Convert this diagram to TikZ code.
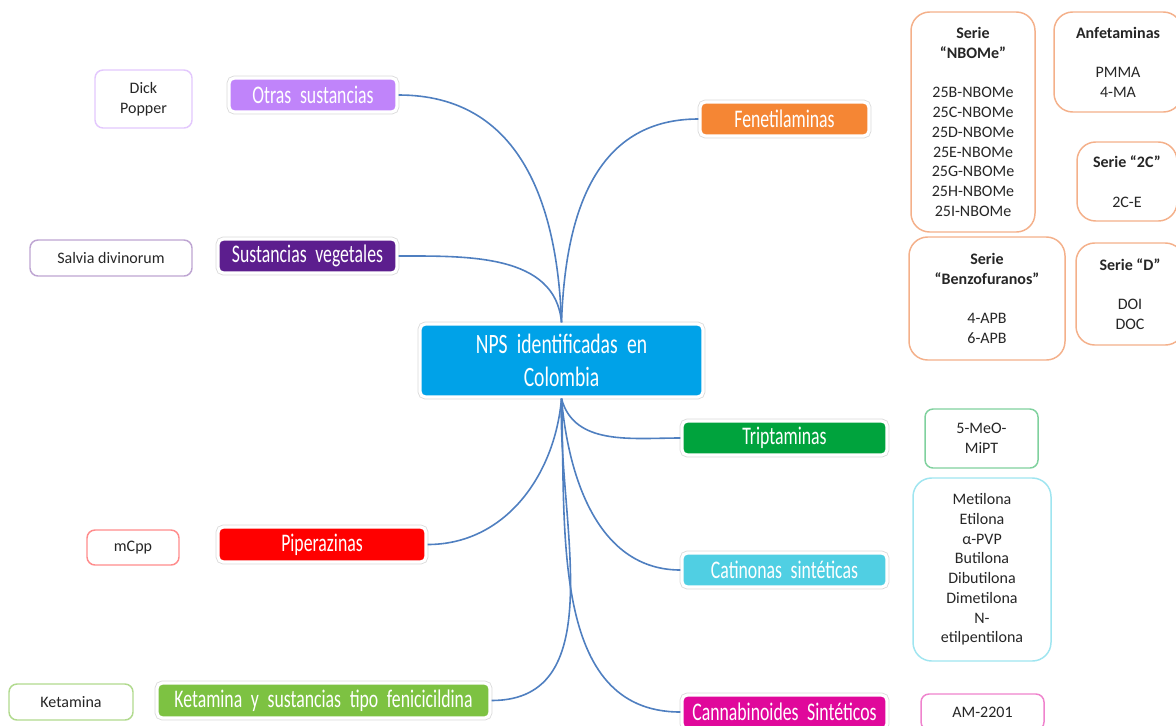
\documentclass[tikz,border=0pt]{standalone}
\usepackage{fontspec}
\setmainfont{Carlito}
\newfontfamily\catfont{Carlito}[FakeStretch=0.7]
\newcommand\catsize{\catfont\fontsize{19}{22}\selectfont\spaceskip=6.5pt\relax}
\newcommand\hubsize{\catfont\fontsize{21}{25}\selectfont\spaceskip=7pt\relax}
\definecolor{hubcol}{HTML}{00A2E8}
\definecolor{otrascol}{HTML}{C084FA}
\definecolor{vegetcol}{HTML}{5C1E8E}
\definecolor{pipercol}{HTML}{FF0000}
\definecolor{ketcol}{HTML}{7DC242}
\definecolor{fenetcol}{HTML}{F58634}
\definecolor{triptcol}{HTML}{00A33D}
\definecolor{catincol}{HTML}{50CFE3}
\definecolor{cannacol}{HTML}{E0089B}
\definecolor{linkblue}{HTML}{4F7FC0}
\definecolor{orangeline}{HTML}{F4B08A}

\begin{document}
\begin{tikzpicture}[x=0.75pt,y=-0.75pt,
	cat/.style={rounded corners=4pt, text=white, inner sep=0pt, align=center, font=\catsize,
		preaction={draw=black!15, line width=3.6pt}, draw=white, line width=2.4pt},
	leaf/.style={rounded corners=6pt, fill=white, line width=1.1pt, text=black!85,
		inner sep=0pt, align=center, font=\fontsize{12}{14.8}\selectfont},
	serie/.style={leaf, rounded corners=14pt, draw=orangeline},
	branch/.style={draw=linkblue, line width=1.2pt}]
	\useasboundingbox (0,0) rectangle (1176,725);
	% centre
	\node[cat, fill=hubcol, minimum width=212.25pt, minimum height=54.75pt, font=\hubsize] (hub) at (561.5,360.5) {NPS identificadas en\\Colombia};
	% categories, left
	\node[cat, fill=otrascol, minimum width=126pt, minimum height=25.5pt] (otras) at (313,95) {Otras sustancias};
	\node[cat, fill=vegetcol, minimum width=134.25pt, minimum height=25.5pt] (veget) at (307.5,256) {Sustancias vegetales};
	\node[cat, fill=pipercol, minimum width=156pt, minimum height=26.25pt] (piper) at (322,544.5) {Piperazinas};
	\node[cat, fill=ketcol, minimum width=249.75pt, minimum height=26.25pt] (ketcat) at (323.5,700.5) {Ketamina y sustancias tipo fenicicildina};
	% categories, right
	\node[cat, fill=fenetcol, minimum width=126.75pt, minimum height=25.5pt] (fenet) at (784.5,119) {Fenetilaminas};
	\node[cat, fill=triptcol, minimum width=153.75pt, minimum height=25.5pt] (tript) at (784.5,438) {Triptaminas};
	\node[cat, fill=catincol, minimum width=153.75pt, minimum height=25.5pt] (catin) at (784.5,570) {Catinonas sintéticas};
	\node[cat, fill=cannacol, minimum width=153.75pt, minimum height=25.5pt] (canna) at (784.5,712) {Cannabinoides Sintéticos};
	% leaves
	\node[leaf, draw=otrascol!45, minimum width=72.75pt, minimum height=43.5pt] (dick) at (143.5,99) {Dick\\Popper};
	\node[leaf, draw=vegetcol!40, minimum width=121.5pt, minimum height=27pt] (salvia) at (111,258) {Salvia divinorum};
	\node[leaf, draw=pipercol!45, minimum width=69pt, minimum height=26.25pt] (mcpp) at (133,547.5) {mCpp};
	\node[leaf, draw=ketcol!60, minimum width=93pt, minimum height=27pt] (ketleaf) at (71,702) {Ketamina};
	\node[serie, minimum width=93pt, minimum height=165pt] (nbome) at (973,122) {\textbf{Serie}\\\textbf{“NBOMe”}\\[14.8pt]25B-NBOMe\\25C-NBOMe\\25D-NBOMe\\25E-NBOMe\\25G-NBOMe\\25H-NBOMe\\25I-NBOMe};
	\node[serie, minimum width=96pt, minimum height=75pt] (anfet) at (1118,62) {\textbf{Anfetaminas}\\[14.8pt]PMMA\\4-MA};
	\node[serie, minimum width=75pt, minimum height=59.25pt] (dosc) at (1127,181.5) {\textbf{Serie “2C”}\\[14.8pt]2C-E};
	\node[serie, minimum width=117pt, minimum height=92.25pt] (benzo) at (987,298.5) {\textbf{Serie}\\\textbf{“Benzofuranos”}\\[14.8pt]4-APB\\6-APB};
	\node[serie, minimum width=81pt, minimum height=76.5pt] (seried) at (1130,294) {\textbf{Serie “D”}\\[14.8pt]DOI\\DOC};
	\node[leaf, draw=triptcol!50, minimum width=84.75pt, minimum height=44.25pt] (mipt) at (981.5,438.5) {5-MeO-\\MiPT};
	\node[leaf, draw=catincol!55, rounded corners=14pt, minimum width=103.5pt, minimum height=137.25pt] (catlist) at (982,569.5) {Metilona\\Etilona\\α-PVP\\Butilona\\Dibutilona\\Dimetilona\\N-\\etilpentilona};
	\node[leaf, draw=cannacol!50, minimum width=92.25pt, minimum height=27pt] (am) at (982.5,712) {AM-2201};
	% branches
	\draw[branch] (hub.north) to[out=92,in=0,looseness=1.1] (otras.east);
	\draw[branch] (hub.north) to[out=95,in=0] (veget.east);
	\draw[branch] (hub.north) to[out=88,in=180,looseness=1.1] (fenet.west);
	\draw[branch] (hub.south) to[out=-75,in=180] (tript.west);
	\draw[branch] (hub.south) to[out=-85,in=180] (catin.west);
	\draw[branch] (hub.south) to[out=-88,in=180] (canna.west);
	\draw[branch] (hub.south) to[out=-95,in=0] (piper.east);
	\draw[branch] (hub.south) to[out=-92,in=0] (ketcat.east);
\end{tikzpicture}
\end{document}
